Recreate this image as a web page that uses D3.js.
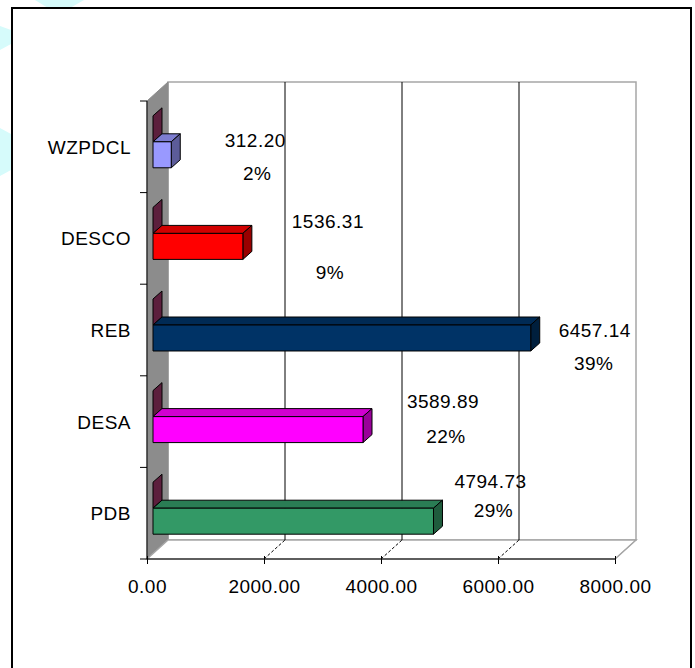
<!DOCTYPE html>
<html>
<head>
<meta charset="utf-8">
<script src="https://cdn.jsdelivr.net/npm/d3@7"></script>
<style>
  html, body { margin: 0; padding: 0; background: #ffffff; }
  svg { display: block; }
  text { font-family: "Liberation Sans", Arial, sans-serif; font-size: 19px; fill: #000; letter-spacing: 0.5px; }
</style>
</head>
<body>
<svg id="chart" width="695" height="668"></svg>
<script>
// ---- data ----
const categories = ["WZPDCL", "DESCO", "REB", "DESA", "PDB"];
const values = [312.20, 1536.31, 6457.14, 3589.89, 4794.73];
const zeroSeries = [0, 0, 0, 0, 0];
const percentLabels = ["2%", "9%", "39%", "22%", "29%"];
const xTicks = [0, 2000, 4000, 6000, 8000];
const barColors = ["#9999ff", "#ff0000", "#003366", "#ff00ff", "#339966"];
const zeroColor = "#993366";

// ---- layout (positions / styles, not data) ----
const depth = { dx: 21, dy: -19 };      // wall depth
const barPlane = { dx: 6, dy: -5 };     // front plane of bars
const barDepth = { dx: 9, dy: -8 };     // 3D depth of each bar
// hand-placed data-label nudges [dx, dy] relative to bar end / bar centre
const valueNudge = [[84, -8], [85, -18], [64, -1], [80, -22], [57, -33]];
const pctNudge = [[86, 25], [87, 33], [63, 32], [83, 13], [60, -4]];

const svg = d3.select("#chart");

// decoration outside frame
const deco = svg.append("g").attr("fill", "#d6fbfb");
deco.append("polygon").attr("points", "35,0 84,0 70,8 48,8");
deco.append("polygon").attr("points", "0,26 11,30 11,44 0,50");
deco.append("polygon").attr("points", "0,128 11,134 11,170 0,176");

// frame
svg.append("rect").attr("x", 12).attr("y", 8).attr("width", 679).attr("height", 700)
  .attr("fill", "#fff").attr("stroke", "#000").attr("stroke-width", 2);

// scales
const x = d3.scaleLinear().domain([0, 8000]).range([147, 615]);
const y = d3.scaleBand().domain(categories).range([101, 559]);
const sub = d3.scaleBand().domain(["zero", "value"]).range([0, y.bandwidth()]).paddingOuter(0.762);

const x0 = x(0), x8 = x(8000), yTop = y.range()[0], yBot = y.range()[1];

// back wall
svg.append("polygon")
  .attr("points", [[x0 + depth.dx, yTop + depth.dy], [x8 + depth.dx, yTop + depth.dy], [x8 + depth.dx, yBot + depth.dy], [x0 + depth.dx, yBot + depth.dy]].join(" "))
  .attr("fill", "#fff").attr("stroke", "#a6a6a6").attr("stroke-width", 1.5);
// side wall
svg.append("polygon")
  .attr("points", [[x0, yTop], [x0 + depth.dx, yTop + depth.dy], [x0 + depth.dx, yBot + depth.dy], [x0, yBot]].join(" "))
  .attr("fill", "#8c8c8c").attr("stroke", "#8c8c8c");
// floor
svg.append("polygon")
  .attr("points", [[x0, yBot], [x0 + depth.dx, yBot + depth.dy], [x8 + depth.dx, yBot + depth.dy], [x8, yBot]].join(" "))
  .attr("fill", "#fff").attr("stroke", "#a6a6a6").attr("stroke-width", 1.5);

// gridlines on back wall + floor
const grid = svg.append("g");
xTicks.filter(t => t > 0 && t < 8000).forEach(t => {
  grid.append("line").attr("x1", x(t) + depth.dx).attr("x2", x(t) + depth.dx)
    .attr("y1", yTop + depth.dy).attr("y2", yBot + depth.dy).attr("stroke", "#000");
});
xTicks.filter(t => t > 0).forEach(t => {
  grid.append("line").attr("x1", x(t)).attr("y1", yBot)
    .attr("x2", x(t) + depth.dx).attr("y2", yBot + depth.dy)
    .attr("stroke", t === 8000 ? "#a6a6a6" : "#000").attr("stroke-dasharray", t === 8000 ? null : "3,2");
});

function shade(c, k) {
  const r = d3.rgb(c);
  return d3.rgb(r.r * k, r.g * k, r.b * k).formatHex();
}

// bars
const bars = svg.append("g").attr("stroke", "#000").attr("stroke-width", 1).attr("stroke-linejoin", "round");
categories.forEach((cat, i) => {
  // zero series (only end cap visible)
  const yz = y(cat) + sub("zero") + barPlane.dy;
  const hz = sub.bandwidth();
  const xz = x(zeroSeries[i]) + barPlane.dx;
  bars.append("polygon")
    .attr("points", [[xz, yz], [xz, yz + hz], [xz + barDepth.dx, yz + hz + barDepth.dy], [xz + barDepth.dx, yz + barDepth.dy]].join(" "))
    .attr("fill", shade(zeroColor, 0.6));
});
categories.forEach((cat, i) => {
  const yv = y(cat) + sub("value") + barPlane.dy;
  const h = sub.bandwidth();
  const xs = x(0) + barPlane.dx;
  const xe = x(values[i]) + barPlane.dx;
  const c = barColors[i];
  // top face
  bars.append("polygon")
    .attr("points", [[xs, yv], [xe, yv], [xe + barDepth.dx, yv + barDepth.dy], [xs + barDepth.dx, yv + barDepth.dy]].join(" "))
    .attr("fill", shade(c, 0.82));
  // side face
  bars.append("polygon")
    .attr("points", [[xe, yv], [xe + barDepth.dx, yv + barDepth.dy], [xe + barDepth.dx, yv + h + barDepth.dy], [xe, yv + h]].join(" "))
    .attr("fill", shade(c, 0.6));
  // front face
  bars.append("rect").attr("x", xs).attr("y", yv).attr("width", xe - xs).attr("height", h)
    .attr("fill", c);
});

// x axis
const xAxis = d3.axisBottom(x).tickValues(xTicks).tickFormat(d3.format(".2f")).tickSize(5);
const gx = svg.append("g").attr("transform", `translate(0,${yBot})`).call(xAxis);
gx.select(".domain").remove();
gx.selectAll(".tick line").attr("y1", -3).attr("stroke", "#000");
gx.selectAll(".tick text").attr("y", 34).attr("dy", null)
  .style("font-family", "'Liberation Sans', Arial, sans-serif").style("font-size", "19px");
svg.append("line").attr("x1", x0).attr("x2", x8).attr("y1", yBot).attr("y2", yBot).attr("stroke", "#000");

// y axis
svg.append("line").attr("x1", x0).attr("x2", x0).attr("y1", yTop).attr("y2", yBot).attr("stroke", "#000");
const yBounds = categories.map(c => y(c)).concat([yBot]);
svg.append("g").selectAll("line").data(yBounds).join("line")
  .attr("x1", x0 - 7).attr("x2", x0).attr("y1", d => d).attr("y2", d => d).attr("stroke", "#000");
svg.append("g").selectAll("text").data(categories).join("text")
  .attr("x", x0 - 16).attr("y", d => y(d) + y.bandwidth() / 2 + 7)
  .attr("text-anchor", "end").text(d => d);

// data labels
const labels = svg.append("g").attr("text-anchor", "middle");
categories.forEach((cat, i) => {
  const xe = x(values[i]) + barPlane.dx;
  const yc = y(cat) + sub("value") + barPlane.dy + sub.bandwidth() / 2;
  labels.append("text").attr("x", xe + valueNudge[i][0]).attr("y", yc + valueNudge[i][1])
    .text(d3.format(".2f")(values[i]));
  labels.append("text").attr("x", xe + pctNudge[i][0]).attr("y", yc + pctNudge[i][1])
    .text(percentLabels[i]);
});
</script>
</body>
</html>
